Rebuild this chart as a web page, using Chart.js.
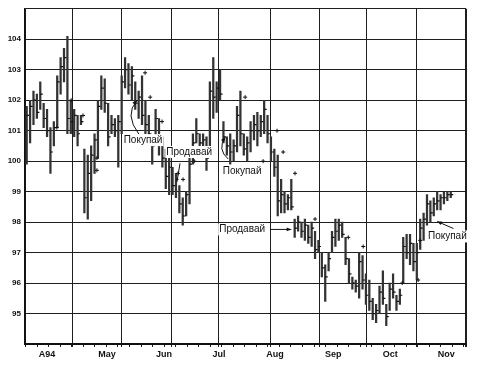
<!DOCTYPE html>
<html>
<head>
<meta charset="utf-8">
<script src="https://cdn.jsdelivr.net/npm/chart.js@4.4.1/dist/chart.umd.min.js"></script>
<style>
  body { margin: 0; background: #fff; }
  canvas { display: block; }
</style>
</head>
<body>
<canvas id="barChart" width="478" height="367"></canvas>
<script>
// daily bars (one entry per trading day)
var highs = [101.8, 102.0, 102.3, 102.2, 102.6, 101.9, 101.7, 101.1, 101.3, 102.8,
    103.4, 103.7, 104.1, 102.0, 101.7, 101.5, 101.5, 100.4, 100.2, 100.5,
    100.9, 102.0, 102.8, 102.7, 101.9, 101.5, 101.4, 101.5, 102.8, 103.4,
    103.2, 103.1, 102.6, 102.3, 102.8, 102.0, 101.5, 100.8, 101.7, 101.4,
    100.8, 100.4, 100.1, 99.8, 99.6, 99.2, 98.8, 99.0, 100.1, 100.9,
    101.4, 100.9, 100.9, 100.8, 102.6, 103.4, 102.6, 103.0, 101.3, 100.8,
    100.9, 100.7, 101.8, 102.3, 100.9, 100.8, 101.3, 101.5, 101.6, 101.5,
    102.0, 101.5, 100.8, 100.4, 100.2, 99.4, 99.0, 98.9, 99.4, 98.1,
    98.2, 98.0, 98.1, 97.9, 98.0, 97.7, 97.4, 97.0, 96.6, 97.0,
    97.7, 98.1, 98.1, 98.0, 97.5, 96.8, 96.2, 96.1, 97.0, 96.9,
    96.3, 96.1, 95.5, 95.3, 95.9, 96.4, 95.3, 96.0, 96.3, 95.6,
    95.8, 97.5, 97.6, 97.6, 97.3, 97.3, 98.1, 98.3, 98.9, 98.7,
    98.8, 99.0, 98.9, 99.0, 99.0, 99.0];
var lows = [99.9, 100.6, 101.2, 101.4, 101.7, 101.1, 100.8, 99.6, 100.5, 101.1,
    102.2, 102.6, 100.9, 100.9, 100.8, 100.5, 101.2, 98.3, 98.1, 98.7,
    99.6, 100.1, 101.7, 101.6, 100.5, 100.9, 100.8, 99.8, 100.9, 102.4,
    102.2, 102.0, 101.7, 101.4, 101.2, 100.9, 100.7, 99.9, 100.8, 100.2,
    99.8, 99.1, 98.9, 98.9, 98.8, 98.3, 97.9, 98.2, 98.6, 99.9,
    100.6, 100.4, 100.2, 99.7, 100.5, 101.4, 101.6, 102.0, 100.6, 100.2,
    99.9, 100.0, 100.3, 100.5, 100.2, 100.0, 100.3, 100.7, 100.5, 100.8,
    100.9, 100.6, 100.0, 99.5, 98.2, 98.3, 98.3, 98.4, 98.4, 97.5,
    97.7, 97.5, 97.4, 97.3, 97.2, 96.8, 97.0, 96.2, 95.4, 96.4,
    97.0, 97.2, 97.4, 97.5, 96.6, 96.0, 95.8, 95.7, 95.5, 95.8,
    95.3, 95.1, 94.8, 94.7, 95.0, 95.3, 94.6, 95.1, 95.5, 95.1,
    95.3, 96.0, 96.8, 96.6, 96.4, 96.1, 97.1, 97.4, 97.9, 98.0,
    98.2, 98.4, 98.4, 98.6, 98.7, 98.8];
var closes = [101.5, 101.8, 102.0, 101.6, 102.2, 101.4, 101.0, 100.3, 101.1, 102.6,
    103.1, 103.4, 101.4, 101.3, 101.5, 100.9, 101.3, 98.8, 99.6, 100.2,
    100.7, 101.8, 102.4, 101.9, 100.8, 101.2, 101.0, 101.3, 102.6, 103.0,
    102.5, 102.8, 101.9, 102.1, 101.5, 101.2, 100.9, 100.5, 101.4, 100.6,
    100.1, 99.5, 99.8, 99.2, 99.4, 98.6, 98.2, 98.9, 99.9, 100.6,
    100.9, 100.6, 100.7, 100.1, 102.3, 102.1, 102.4, 102.2, 100.8, 100.5,
    100.3, 100.5, 101.5, 100.9, 100.4, 100.6, 101.0, 101.2, 101.0, 101.3,
    101.7, 100.9, 100.3, 99.8, 98.7, 98.9, 98.6, 98.8, 98.5, 97.8,
    98.0, 97.7, 97.9, 97.5, 97.8, 97.1, 97.2, 96.5, 96.2, 96.8,
    97.5, 97.7, 97.9, 97.6, 96.8, 96.3, 96.0, 95.9, 96.7, 96.1,
    95.6, 95.4, 95.0, 95.1, 95.7, 95.5, 94.9, 95.8, 95.7, 95.4,
    95.6, 97.2, 97.0, 97.3, 96.7, 97.0, 97.8, 98.1, 98.6, 98.3,
    98.6, 98.7, 98.8, 98.8, 98.9, 98.9];

// small arrow marks next to some bars
var markX = [9.9, 14.1, 17.6, 21.7, 21.7, 35.9, 37.4, 40.9, 45.6, 47.1, 50.4,
    65.4, 70.7, 74.8, 76.6, 80.1, 86.0, 95.8, 100.2, 111.7, 116.4, 117.0];
var markY = [101.1, 102.0, 101.5, 100.1, 99.7, 102.9, 102.1, 101.3, 99.6, 99.4, 100.0,
    102.1, 100.0, 101.0, 100.3, 99.6, 98.1, 97.5, 97.2, 96.0, 96.1, 97.4];

// axis labels
var monthLabels = ['A94', 'May', 'Jun', 'Jul', 'Aug', 'Sep', 'Oct', 'Nov'];
var monthPos = [7, 24.7, 41.5, 57.7, 74.2, 91.4, 108.2, 124.7];
var gridPos = [0.5, 14.4, 28.8, 43.6, 57.4, 72.8, 87.2, 101.1, 115.8, 130.5];

// notes on the chart
var noteTexts = ['Покупай', 'Продавай', 'Покупай', 'Продавай', 'Покупай'];
var noteX = [35.3, 48.9, 64.5, 64.5, 125.0];
var noteY = [100.69, 100.30, 99.68, 97.76, 97.53];
var noteArrows = [
    { from: [34.1, 100.88], ctrl: [29.7, 101.53], to: [33.5, 101.99], head: true },
    { from: [46.2, 99.93], ctrl: null, to: [45.3, 99.32], head: false },
    { from: [60.4, 100.07], ctrl: [57.1, 100.39], to: [59.5, 100.78], head: true },
    { from: [72.8, 97.76], ctrl: null, to: [79.0, 97.76], head: true },
    { from: [126.8, 97.79], ctrl: null, to: [122.0, 98.02], head: true }
];

var weekPos = [];
for (var w = 0.7; w < 130; w += 3.4) weekPos.push(Math.round(w * 10) / 10);

var xTicks = gridPos.concat(monthPos, weekPos)
    .filter((v, i, a) => a.indexOf(v) === i)
    .sort((a, b) => a - b);

function isGrid(v) { return gridPos.indexOf(v) !== -1; }
function isWeek(v) { return weekPos.indexOf(v) !== -1; }

var notesPlugin = {
    id: 'notes',
    afterDatasetsDraw: function (chart) {
        var ctx = chart.ctx;
        var x = chart.scales.x, y = chart.scales.y;
        ctx.save();
        ctx.strokeStyle = '#111';
        ctx.lineWidth = 1;
        noteArrows.forEach(function (a) {
            var x0 = x.getPixelForValue(a.from[0]), y0 = y.getPixelForValue(a.from[1]);
            var x1 = x.getPixelForValue(a.to[0]), y1 = y.getPixelForValue(a.to[1]);
            var bx = x0, by = y0;
            ctx.beginPath();
            ctx.moveTo(x0, y0);
            if (a.ctrl) {
                bx = x.getPixelForValue(a.ctrl[0]);
                by = y.getPixelForValue(a.ctrl[1]);
                ctx.quadraticCurveTo(bx, by, x1, y1);
            } else {
                ctx.lineTo(x1, y1);
            }
            ctx.stroke();
            if (a.head) {
                var ang = Math.atan2(y1 - by, x1 - bx);
                ctx.beginPath();
                ctx.moveTo(x1, y1);
                ctx.lineTo(x1 - 5 * Math.cos(ang - 0.4), y1 - 5 * Math.sin(ang - 0.4));
                ctx.lineTo(x1 - 5 * Math.cos(ang + 0.4), y1 - 5 * Math.sin(ang + 0.4));
                ctx.closePath();
                ctx.fillStyle = '#111';
                ctx.fill();
            }
        });
        ctx.font = '10px "Liberation Sans", Arial, sans-serif';
        ctx.textAlign = 'center';
        ctx.textBaseline = 'middle';
        noteTexts.forEach(function (t, i) {
            var px = x.getPixelForValue(noteX[i]), py = y.getPixelForValue(noteY[i]);
            var tw = ctx.measureText(t).width;
            ctx.fillStyle = '#fff';
            ctx.fillRect(px - tw / 2 - 1, py - 6, tw + 2, 12);
            ctx.fillStyle = '#111';
            ctx.fillText(t, px, py);
        });
        ctx.restore();
    }
};

var canvas = document.getElementById('barChart').getContext('2d');

new Chart(canvas, {
    type: 'bar',
    data: {
        datasets: [{
            type: 'bar',
            data: highs.map((h, i) => ({ x: i + 1, y: [lows[i], h] })),
            backgroundColor: '#333',
            barThickness: 1.6,
            grouped: false,
            order: 2
        }, {
            type: 'scatter',
            data: closes.map((c, i) => ({ x: i + 1, y: c })),
            pointStyle: 'dash',
            pointRadius: 2.5,
            borderColor: '#111',
            borderWidth: 1.2,
            order: 1
        }, {
            type: 'scatter',
            data: markX.map((v, i) => ({ x: v, y: markY[i] })),
            pointStyle: 'cross',
            pointRadius: 2,
            borderColor: '#111',
            borderWidth: 1,
            order: 0
        }]
    },
    options: {
        responsive: false,
        animation: false,
        events: [],
        layout: { padding: { top: 5, right: 12, left: 0, bottom: 0 } },
        plugins: {
            legend: { display: false },
            tooltip: { enabled: false }
        },
        scales: {
            x: {
                type: 'linear',
                min: 0.5,
                max: 130.5,
                offset: false,
                afterBuildTicks: function (scale) {
                    scale.ticks = xTicks.map(v => ({ value: v }));
                },
                afterFit: function (scale) { scale.height = 23; },
                grid: {
                    offset: false,
                    color: ctx => (ctx.tick && isGrid(ctx.tick.value)) ? '#1e1e1e' : 'rgba(0,0,0,0)',
                    lineWidth: ctx => (ctx.tick && ctx.tick.value === 130.5) ? 2 : 1,
                    tickColor: ctx => (ctx.tick && (isGrid(ctx.tick.value) || isWeek(ctx.tick.value))) ? '#1e1e1e' : 'rgba(0,0,0,0)',
                    tickLength: 3
                },
                border: { color: '#111', width: 2 },
                ticks: {
                    autoSkip: false,
                    maxRotation: 0,
                    padding: 2,
                    color: '#111',
                    font: { family: '"Liberation Sans", Arial, sans-serif', size: 9, weight: 'bold' },
                    callback: function (v) {
                        var k = monthPos.indexOf(v);
                        return k === -1 ? '' : monthLabels[k];
                    }
                }
            },
            y: {
                min: 94,
                max: 105,
                afterFit: function (scale) { scale.width = 25; },
                grid: { color: '#1e1e1e', lineWidth: 1, drawTicks: false },
                border: { color: '#111', width: 1.5 },
                ticks: {
                    stepSize: 1,
                    padding: 4,
                    color: '#111',
                    font: { family: '"Liberation Sans", Arial, sans-serif', size: 8, weight: 'bold' },
                    callback: v => (v === 94 || v === 105) ? '' : v
                }
            }
        }
    },
    plugins: [notesPlugin]
});
</script>
</body>
</html>
